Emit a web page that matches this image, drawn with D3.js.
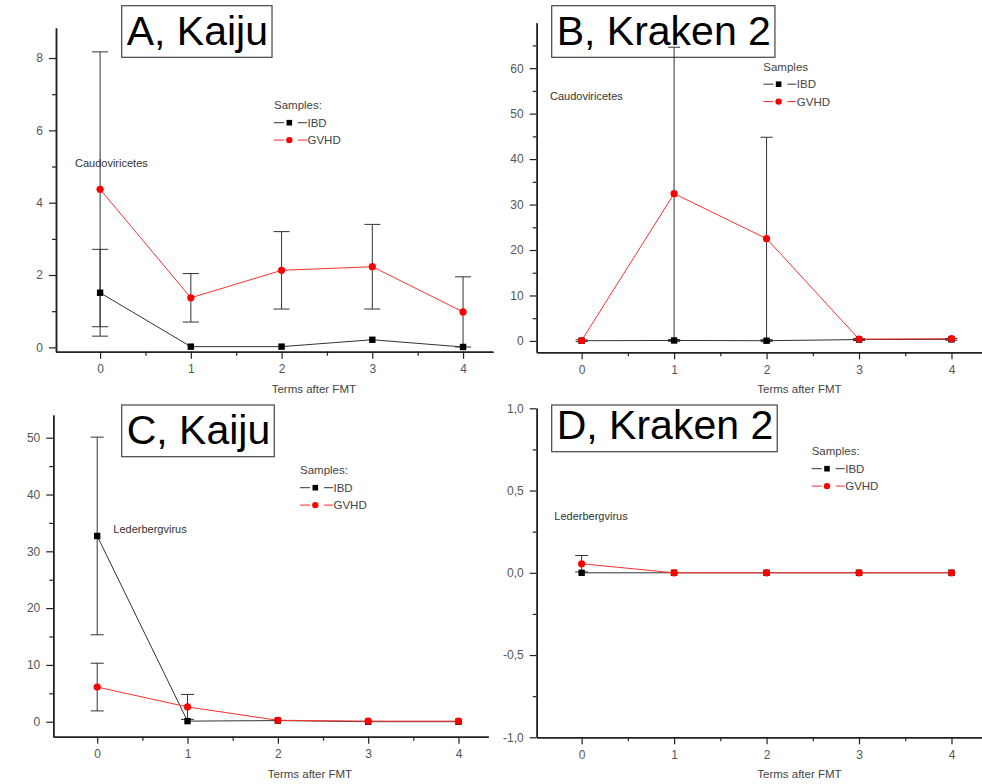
<!DOCTYPE html>
<html>
<head>
<meta charset="utf-8">
<script src="https://cdn.jsdelivr.net/npm/d3@7"></script>
<style>
  body { margin: 0; background: #fff; }
  text { font-family: "Liberation Sans", Arial, sans-serif; }
</style>
</head>
<body>
<svg width="982" height="784"></svg>
<script>
var terms = [0, 1, 2, 3, 4];
var seriesNames = ["IBD", "GVHD"];

// A, Kaiju - Caudoviricetes
var kaijuCaudoIBD = [1.51, 0.02, 0.02, 0.21, 0.01];
var kaijuCaudoIBDErr = [1.2, 0, 0, 0, 0];
var kaijuCaudoGVHD = [4.37, 1.37, 2.13, 2.23, 0.98];
var kaijuCaudoGVHDErr = [3.8, 0.67, 1.07, 1.17, 0.97];

// B, Kraken 2 - Caudoviricetes
var krakenCaudoIBD = [0.05, 0.1, 0.05, 0.3, 0.35];
var krakenCaudoIBDErr = [0.2, 0.2, 0.2, 0.2, 0.2];
var krakenCaudoGVHD = [0.1, 32.4, 22.5, 0.4, 0.5];
var krakenCaudoGVHDErr = [0, 32.2, 22.3, 0, 0];

// C, Kaiju - Lederbergvirus
var kaijuLederIBD = [32.7, 0.1, 0.2, 0, 0];
var kaijuLederIBDErr = [17.4, 0, 0, 0, 0];
var kaijuLederGVHD = [6.1, 2.6, 0.25, 0.1, 0.1];
var kaijuLederGVHDErr = [4.2, 2.2, 0, 0, 0];

// D, Kraken 2 - Lederbergvirus
var krakenLederIBD = [0, 0, 0, 0, 0];
var krakenLederIBDErr = [0, 0, 0, 0, 0];
var krakenLederGVHD = [0.055, 0, 0, 0, 0];
var krakenLederGVHDErr = [0.05, 0, 0, 0, 0];

var svg = d3.select("svg");
var commaFmt = d3.formatLocale({decimal: ",", thousands: ".", grouping: [3], currency: ["", ""], minus: "-"}).format(".1f");

var panels = [
  {title: "A, Kaiju", taxon: "Caudoviricetes", legendTitle: "Samples:",
   ibd: kaijuCaudoIBD, ibdErr: kaijuCaudoIBDErr, gvhd: kaijuCaudoGVHD, gvhdErr: kaijuCaudoGVHDErr,
   box: [56, 28, 493, 351.7], yDomain: [-0.12, 8.83], yMajor: [0, 2, 4, 6, 8], yMinor: [1, 3, 5, 7],
   fmt: d3.format("d"), cap: 8,
   titleAt: [121.7, 5.7, 51.6], taxonAt: [75, 166.5], legendAt: [274, 109]},
  {title: "B, Kraken 2", taxon: "Caudoviricetes", legendTitle: "Samples",
   ibd: krakenCaudoIBD, ibdErr: krakenCaudoIBDErr, gvhd: krakenCaudoGVHD, gvhdErr: krakenCaudoGVHDErr,
   box: [536.7, 22.7, 982, 352.3], yDomain: [-2.5, 70], yMajor: [0, 10, 20, 30, 40, 50, 60], yMinor: [5, 15, 25, 35, 45, 55, 65],
   fmt: d3.format("d"), cap: 6,
   titleAt: [551.7, 5.7, 51.6], taxonAt: [550, 99.5], legendAt: [763.3, 70.5]},
  {title: "C, Kaiju", taxon: "Lederbergvirus", legendTitle: "Samples:",
   ibd: kaijuLederIBD, ibdErr: kaijuLederIBDErr, gvhd: kaijuLederGVHD, gvhdErr: kaijuLederGVHDErr,
   box: [53.3, 415, 488.3, 736.7], yDomain: [-2.64, 54], yMajor: [0, 10, 20, 30, 40, 50], yMinor: [5, 15, 25, 35, 45],
   fmt: d3.format("d"), cap: 6.5,
   titleAt: [121.7, 405, 51.7], taxonAt: [113.3, 533], legendAt: [300, 474]},
  {title: "D, Kraken 2", taxon: "Lederbergvirus", legendTitle: "Samples:",
   ibd: krakenLederIBD, ibdErr: krakenLederIBDErr, gvhd: krakenLederGVHD, gvhdErr: krakenLederGVHDErr,
   box: [536.7, 408.3, 982, 737.3], yDomain: [-1, 1], yMajor: [-1, -0.5, 0, 0.5, 1], yMinor: [-0.75, -0.25, 0.25, 0.75],
   fmt: commaFmt, cap: 6.5,
   titleAt: [551.7, 405, 46.7], taxonAt: [554.3, 520], legendAt: [811.7, 455]}
];

panels.forEach(function (p) {
  var x = d3.scaleLinear().domain([-0.486, 4.33]).range([p.box[0], p.box[2]]);
  var y = d3.scaleLinear().domain(p.yDomain).range([p.box[3], p.box[1]]);
  var g = svg.append("g");

  // title box (drawn underneath, error bars may cross it)
  var tb = g.append("g");
  var tt = tb.append("text")
    .attr("x", p.titleAt[0] + 5).attr("y", p.titleAt[1] + p.titleAt[2] - 12.5)
    .attr("font-size", 41).attr("fill", "#000")
    .text(p.title);
  var tw = tt.node().getComputedTextLength();
  tb.insert("rect", "text")
    .attr("x", p.titleAt[0]).attr("y", p.titleAt[1])
    .attr("width", tw + 9).attr("height", p.titleAt[2])
    .attr("fill", "none").attr("stroke", "#444").attr("stroke-width", 1.2);

  // axes
  g.append("g").attr("transform", "translate(" + p.box[0] + ",0)")
    .call(d3.axisLeft(y).tickValues(p.yMajor).tickSize(7).tickSizeOuter(0).tickPadding(6).tickFormat(p.fmt));
  g.append("g").attr("transform", "translate(" + p.box[0] + ",0)")
    .call(d3.axisLeft(y).tickValues(p.yMinor).tickSize(4).tickSizeOuter(0).tickFormat(""));
  g.append("g").attr("transform", "translate(0," + p.box[3] + ")")
    .call(d3.axisBottom(x).tickValues(terms).tickSize(7).tickSizeOuter(0).tickPadding(6).tickFormat(d3.format("d")));
  g.append("g").attr("transform", "translate(0," + p.box[3] + ")")
    .call(d3.axisBottom(x).tickValues([0.5, 1.5, 2.5, 3.5]).tickSize(4).tickSizeOuter(0).tickFormat(""));
  g.selectAll(".domain").attr("stroke", "#222").attr("stroke-width", 1.5);
  g.selectAll(".tick line").attr("stroke", "#222").attr("stroke-width", 1.2);
  g.selectAll(".tick text").attr("font-size", 12).attr("fill", "#555")
    .attr("font-family", "'Liberation Sans', Arial, sans-serif");

  g.append("text")
    .attr("x", p.box[0] + 0.59 * (p.box[2] - p.box[0]))
    .attr("y", p.box[3] + 41)
    .attr("text-anchor", "middle")
    .attr("font-size", 11.5).attr("fill", "#444")
    .text("Terms after FMT");

  var series = [
    {vals: p.ibd, err: p.ibdErr, color: "#000", lineColor: "#333", shape: "square"},
    {vals: p.gvhd, err: p.gvhdErr, color: "#ff0000", lineColor: "#ff3030", shape: "circle"}
  ];
  var line = d3.line().x(function (d) { return x(d[0]); }).y(function (d) { return y(d[1]); });

  series.forEach(function (s) {
    g.append("path")
      .datum(terms.map(function (t, i) { return [t, s.vals[i]]; }))
      .attr("fill", "none").attr("stroke", s.lineColor).attr("stroke-width", 1)
      .attr("d", line);
  });

  // error bars
  series.forEach(function (s) {
    terms.forEach(function (t, i) {
      if (!s.err[i]) return;
      var cx = x(t), hi = y(s.vals[i] + s.err[i]), lo = y(s.vals[i] - s.err[i]);
      var eg = g.append("g").attr("stroke", "#333").attr("stroke-width", 1);
      eg.append("line").attr("x1", cx).attr("x2", cx).attr("y1", hi).attr("y2", lo);
      eg.append("line").attr("x1", cx - p.cap).attr("x2", cx + p.cap).attr("y1", hi).attr("y2", hi);
      eg.append("line").attr("x1", cx - p.cap).attr("x2", cx + p.cap).attr("y1", lo).attr("y2", lo);
    });
  });

  // markers
  series.forEach(function (s) {
    terms.forEach(function (t, i) {
      if (s.shape === "square") {
        g.append("rect").attr("x", x(t) - 3.2).attr("y", y(s.vals[i]) - 3.2)
          .attr("width", 6.4).attr("height", 6.4).attr("fill", s.color);
      } else {
        g.append("circle").attr("cx", x(t)).attr("cy", y(s.vals[i])).attr("r", 3.6).attr("fill", s.color);
      }
    });
  });

  // taxon label
  g.append("text").attr("x", p.taxonAt[0]).attr("y", p.taxonAt[1])
    .attr("font-size", 11).attr("fill", "#333").text(p.taxon);

  // legend
  var lg = g.append("g").attr("transform", "translate(" + p.legendAt[0] + "," + p.legendAt[1] + ")");
  lg.append("text").attr("x", 0).attr("y", 0).attr("font-size", 11.5).attr("fill", "#444").text(p.legendTitle);
  series.forEach(function (s, k) {
    var ry = 13.7 + k * 17.4;
    lg.append("line").attr("x1", 0).attr("x2", 10).attr("y1", ry).attr("y2", ry).attr("stroke", s.lineColor);
    lg.append("line").attr("x1", 24).attr("x2", 33).attr("y1", ry).attr("y2", ry).attr("stroke", s.lineColor);
    if (s.shape === "square") {
      lg.append("rect").attr("x", 12.5).attr("y", ry - 2.8).attr("width", 5.6).attr("height", 5.6).attr("fill", s.color);
    } else {
      lg.append("circle").attr("cx", 15.3).attr("cy", ry).attr("r", 3.2).attr("fill", s.color);
    }
    lg.append("text").attr("x", 33.5).attr("y", ry + 4).attr("font-size", 11.5).attr("fill", "#444")
      .text(seriesNames[k]);
  });
});
</script>
</body>
</html>
